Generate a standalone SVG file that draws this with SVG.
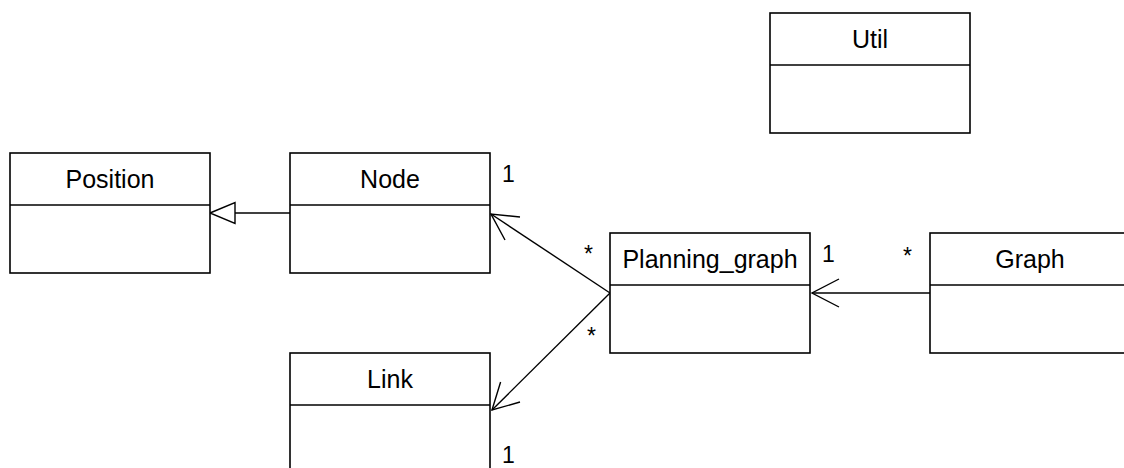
<svg xmlns="http://www.w3.org/2000/svg" width="1124" height="468" viewBox="0 0 1124 468">
<style>
.box{fill:#fff;stroke:#000;stroke-width:1.6}
.div{stroke:#000;stroke-width:1.6}
.title{font-family:"Liberation Sans",Arial,sans-serif;font-size:25px;fill:#000;text-anchor:middle}
.mult{font-family:"Liberation Sans",Arial,sans-serif;font-size:23px;fill:#000}
.edge{fill:none;stroke:#000;stroke-width:1.4}
</style>
<rect width="1124" height="468" fill="#fff"/>
<g id="connectors">
<line class="edge" x1="290" y1="213" x2="235" y2="213"/>
<polygon points="210,213 235,202.5 235,223.5" fill="#fff" stroke="#000" stroke-width="1.4"/>
<line class="edge" x1="610" y1="293" x2="491" y2="214"/>
<polyline class="edge" points="520,217 491,214 505,240"/>
<line class="edge" x1="610" y1="293" x2="492" y2="410"/>
<polyline class="edge" points="500.6,382 492,410 520,402"/>
<line class="edge" x1="930" y1="293" x2="812" y2="293"/>
<polyline class="edge" points="839,279 812,293 839,307"/>
<text class="mult" x="502" y="182">1</text>
<text class="mult" x="584" y="262">*</text>
<text class="mult" x="587" y="344">*</text>
<text class="mult" x="502" y="463">1</text>
<text class="mult" x="822" y="262">1</text>
<text class="mult" x="903" y="264">*</text>
</g>
<g id="Util">
<rect class="box" x="770" y="13" width="200" height="120"/>
<line class="div" x1="770" y1="65" x2="970" y2="65"/>
<text class="title" x="870" y="48">Util</text>
</g>
<g id="Position">
<rect class="box" x="10" y="153" width="200" height="120"/>
<line class="div" x1="10" y1="205" x2="210" y2="205"/>
<text class="title" x="110" y="188">Position</text>
</g>
<g id="Node">
<rect class="box" x="290" y="153" width="200" height="120"/>
<line class="div" x1="290" y1="205" x2="490" y2="205"/>
<text class="title" x="390" y="188">Node</text>
</g>
<g id="Planning_graph">
<rect class="box" x="610" y="233" width="200" height="120"/>
<line class="div" x1="610" y1="285" x2="810" y2="285"/>
<text class="title" x="710" y="268">Planning_graph</text>
</g>
<g id="Graph">
<rect class="box" x="930" y="233" width="200" height="120"/>
<line class="div" x1="930" y1="285" x2="1130" y2="285"/>
<text class="title" x="1030" y="268">Graph</text>
</g>
<g id="Link">
<rect class="box" x="290" y="353" width="200" height="120"/>
<line class="div" x1="290" y1="405" x2="490" y2="405"/>
<text class="title" x="390" y="388">Link</text>
</g>
</svg>
